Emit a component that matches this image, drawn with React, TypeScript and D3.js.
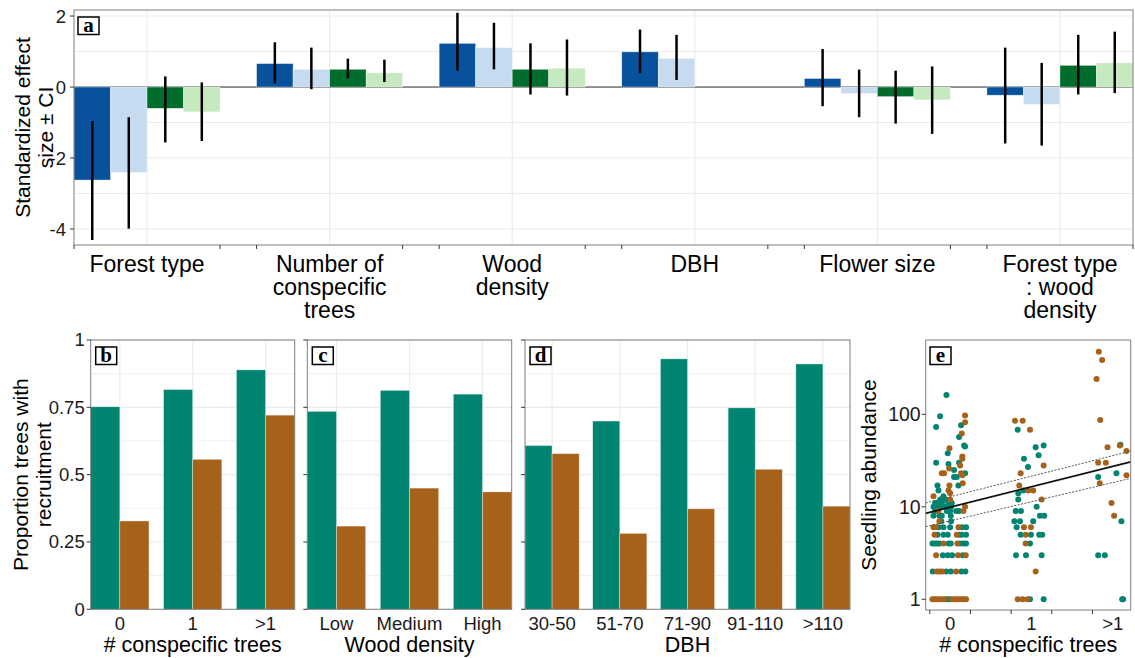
import React, { useEffect, useRef } from "react";
import * as d3 from "d3";

const W = 1135;
const H = 658;
const SANS = "'Liberation Sans', Arial, Helvetica, sans-serif";
const SERIF = "'Liberation Serif', 'Times New Roman', serif";

// ---------- Panel a data ----------
const effectCategories = [
  "Forest type",
  "Number of\nconspecific\ntrees",
  "Wood\ndensity",
  "DBH",
  "Flower size",
  "Forest type\n: wood\ndensity",
];
const effectSeries = ["Model 1", "Model 2", "Model 3", "Model 4"];
const effectColors = ["#08519c", "#c6dbef", "#006d2c", "#c7e9c0"];
const effDarkBlue = [-2.62, 0.66, 1.23, 0.99, 0.24, -0.23];
const effDarkBlueLo = [-4.31, 0.1, 0.46, 0.39, -0.54, -1.59];
const effDarkBlueHi = [-0.96, 1.26, 2.09, 1.62, 1.07, 1.11];
const effLightBlue = [-2.41, 0.5, 1.11, 0.81, -0.18, -0.49];
const effLightBlueLo = [-3.99, -0.06, 0.5, 0.2, -0.85, -1.65];
const effLightBlueHi = [-0.85, 1.11, 1.81, 1.47, 0.49, 0.68];
const effDarkGreen = [-0.6, 0.5, 0.5, null, -0.27, 0.61];
const effDarkGreenLo = [-1.56, 0.25, -0.21, null, -1.03, -0.21];
const effDarkGreenHi = [0.3, 0.8, 1.23, null, 0.46, 1.47];
const effLightGreen = [-0.7, 0.4, 0.53, null, -0.36, 0.68];
const effLightGreenLo = [-1.52, 0.14, -0.24, null, -1.32, -0.17];
const effLightGreenHi = [0.13, 0.77, 1.34, null, 0.58, 1.56];
const effTicks = [2, 0, -2, -4];

// ---------- Panels b-d data ----------
const recruitColors = ["#018571", "#a6611a"];
const propTicks = [0, 0.25, 0.5, 0.75, 1];
const propTickLabels = ["0", "0.25", "0.5", "0.75", "1"];

const conspCategories = ["0", "1", ">1"];
const conspTeal = [0.752, 0.816, 0.889];
const conspBrown = [0.328, 0.557, 0.721];

const woodCategories = ["Low", "Medium", "High"];
const woodTeal = [0.735, 0.813, 0.799];
const woodBrown = [0.309, 0.45, 0.436];

const dbhCategories = ["30-50", "51-70", "71-90", "91-110", ">110"];
const dbhTeal = [0.608, 0.699, 0.93, 0.748, 0.911];
const dbhBrown = [0.578, 0.282, 0.373, 0.52, 0.383];

// ---------- Panel e data ----------
const seedCategories = ["0", "1", ">1"];
const seedTicks = [1, 10, 100];
const tealX = [
  -0.041, -0.012,
  -0.213, -0.049, 0.008, 0.139, 0.188,
  -0.09, -0.029, 0.025, 0.155,
  -0.217, -0.188, -0.16, -0.131, -0.02, 0.008, 0.123, 0.164, 0.196,
  -0.155, -0.082, -0.029, 0.11, 0.143, 0.196,
  -0.143, -0.082, 0, 0.143, 0.196,
  -0.11, 0.012,
  -0.204, -0.131, -0.102, 0.008,
  -0.184, -0.041, -0.02, 0, 0.074, 0.11,
  -0.204, -0.123, -0.057, 0.012, -0.16,
  -0.184, -0.164, -0.02, 0.02, -0.1,
  -0.06, -0.12,
  -0.082, -0.143, -0.155, 0.102, 0.049, 0.082, 0.184, 0.049,
  -0.172, -0.02, 0.11, -0.029, 0.172, 0.184, 0.11, -0.172, 0.135, -0.123, -0.045,
  0.831, 1.052, 1.15, 1.088, 0.908, 0.957, 0.838, 0.838, 0.9, 1.064, 0.806, 0.871,
  1.104, 1.157, 0.79, 0.859, 1.022, 0.818, 0.867, 0.994, 1.096, 1.133, 0.982,
  0.81, 0.933, 1.125, 0.982, 1.15,
  2.094, 1.82, 2.045, 2.106, 1.82, 1.902, 2.115, 2.127,
];
const tealY = [
  1, 1,
  2, 2, 2, 2, 2,
  3, 3, 3, 3,
  4, 4, 4, 4, 4, 4, 4, 4, 4,
  5, 5, 5, 5, 5, 5,
  6, 6, 6, 6, 6,
  7, 7,
  8, 8, 8, 8,
  9, 9, 9, 9, 9, 9,
  10, 10, 10, 10, 10,
  11, 11, 11, 11, 11,
  12, 12,
  13, 15, 17, 17, 21, 21, 23, 25,
  30, 29, 30, 38, 46, 45, 57, 73, 76, 95, 162,
  68, 44, 46, 36, 33, 27, 14, 12, 15, 10, 9, 9,
  8, 8, 7, 7, 7, 6, 5, 5, 5, 5, 4,
  3, 3, 3, 1, 1,
  47, 21, 23, 7, 3, 3, 1, 1,
];
const brownX = [
  -0.217, -0.192, -0.164, -0.131, -0.098, -0.07, 0.02, 0.049, 0.082, 0.11, 0.139, 0.168, 0.196,
  -0.164, -0.131, -0.098, 0.074,
  -0.172, 0.098, 0.192,
  -0.082, 0.09,
  -0.192, 0.082,
  -0.204, -0.176, 0.102,
  -0.131,
  -0.143, 0.164,
  0.184, 0.0, -0.204, -0.02, 0.0, -0.008, 0.155,
  -0.102, -0.074, 0.135, 0.151, -0.012, 0.123, 0.151, 0.151, -0.008, 0.143, 0.184, 0.184,
  0.798, 0.892, 0.982, 1.15, 0.867, 0.85, 0.961, 1.022, 1.125, 0.908, 0.994, 0.929, 0.929,
  1.052, 0.831, 0.892, 0.953,
  1.828, 1.869, 1.8, 1.845, 1.935, 2.086, 2.168, 1.82, 1.914, 1.84, 2.168, 1.984, 2.016,
];
const brownY = [
  1, 1, 1, 1, 1, 1, 1, 1, 1, 1, 1, 1, 1,
  2, 2, 2, 2,
  3, 3, 3,
  4, 4,
  5, 5,
  6, 6, 6,
  7,
  9, 9,
  10, 12, 13, 15, 14, 17, 18,
  23, 23, 23, 22, 26, 28, 35, 33, 43, 62, 82, 97,
  85, 85, 68, 28, 23, 17, 15, 15, 12, 6, 6, 5, 4,
  2, 1, 1, 1,
  475, 386, 241, 87, 44, 46, 40, 30, 30, 18, 22, 11, 8,
];
const fitX = [-0.3, 2.22];
const fitMid = [8.5, 30.6];
const fitUpper = [11.0, 40.0];
const fitLower = [6.1, 20.3];

const BORDER = "#7f7f7f";
const TICK = "#333333";
const GRID = "#ebebeb";
const TICKFONT = 18.5;
const TITLEFONT = 21.5;

function panelLabel(g: any, x: number, y: number, letter: string) {
  g.append("rect")
    .attr("x", x)
    .attr("y", y)
    .attr("width", 21)
    .attr("height", 17.5)
    .attr("fill", "white")
    .attr("stroke", "black")
    .attr("stroke-width", 1.5);
  g.append("text")
    .attr("x", x + 10.5)
    .attr("y", y + 15)
    .attr("text-anchor", "middle")
    .attr("font-family", SERIF)
    .attr("font-weight", "bold")
    .attr("font-size", 21)
    .text(letter);
}

function drawBarPanel(
  svg: any,
  opts: {
    left: number;
    right: number;
    top: number;
    bottom: number;
    cats: string[];
    teal: number[];
    brown: number[];
    letter: string;
    title: string;
    showYLabels: boolean;
  }
) {
  const { left, right, top, bottom, cats, teal, brown, letter, title, showYLabels } = opts;
  const g = svg.append("g");
  const x = d3.scaleBand<string>().domain(cats).range([left, right]).paddingInner(0.2).paddingOuter(0);
  const sub = d3.scaleBand<string>().domain(["t", "b"]).range([0, x.bandwidth()]);
  const y = d3.scaleLinear().domain([0, 1]).range([bottom, top]);

  const minor = [0.125, 0.375, 0.625, 0.875];
  g.selectAll(".gmin")
    .data(minor)
    .join("line")
    .attr("x1", left)
    .attr("x2", right)
    .attr("y1", (d: number) => y(d))
    .attr("y2", (d: number) => y(d))
    .attr("stroke", GRID)
    .attr("stroke-width", 0.8);
  g.selectAll(".gmaj")
    .data(propTicks)
    .join("line")
    .attr("x1", left)
    .attr("x2", right)
    .attr("y1", (d: number) => y(d))
    .attr("y2", (d: number) => y(d))
    .attr("stroke", GRID)
    .attr("stroke-width", 1.1);
  g.selectAll(".gv")
    .data(cats)
    .join("line")
    .attr("x1", (d: string) => (x(d) as number) + x.bandwidth() / 2)
    .attr("x2", (d: string) => (x(d) as number) + x.bandwidth() / 2)
    .attr("y1", top)
    .attr("y2", bottom)
    .attr("stroke", GRID)
    .attr("stroke-width", 1.1);

  const rows = cats.map((c, i) => ({ c, t: teal[i], b: brown[i] }));
  rows.forEach((r) => {
    [
      ["t", r.t, recruitColors[0]],
      ["b", r.b, recruitColors[1]],
    ].forEach(([k, v, col]: any) => {
      g.append("rect")
        .attr("x", (x(r.c) as number) + (sub(k) as number))
        .attr("width", sub.bandwidth())
        .attr("y", y(v))
        .attr("height", y(0) - y(v))
        .attr("fill", col)
        .attr("stroke", "white")
        .attr("stroke-opacity", 0.6)
        .attr("stroke-width", 0.6);
    });
  });

  g.append("rect")
    .attr("x", left)
    .attr("y", top)
    .attr("width", right - left)
    .attr("height", bottom - top)
    .attr("fill", "none")
    .attr("stroke", BORDER)
    .attr("stroke-width", 1);

  propTicks.forEach((t, i) => {
    g.append("line")
      .attr("x1", left - 4)
      .attr("x2", left)
      .attr("y1", y(t))
      .attr("y2", y(t))
      .attr("stroke", TICK)
      .attr("stroke-width", 1);
    if (showYLabels) {
      g.append("text")
        .attr("x", left - 6)
        .attr("y", y(t))
        .attr("dy", "0.35em")
        .attr("text-anchor", "end")
        .attr("font-family", SANS)
        .attr("font-size", TICKFONT)
        .attr("fill", "#1a1a1a")
        .text(propTickLabels[i]);
    }
  });

  cats.forEach((c) => {
    g.append("text")
      .attr("x", (x(c) as number) + x.bandwidth() / 2)
      .attr("y", 630)
      .attr("text-anchor", "middle")
      .attr("font-family", SANS)
      .attr("font-size", TICKFONT)
      .attr("fill", "#1a1a1a")
      .text(c);
  });
  g.append("text")
    .attr("x", (left + right) / 2)
    .attr("y", 652)
    .attr("text-anchor", "middle")
    .attr("font-family", SANS)
    .attr("font-size", TITLEFONT)
    .attr("fill", "#000")
    .text(title);

  panelLabel(g, left + 5, top + 7, letter);
}

export default function App() {
  const ref = useRef<SVGSVGElement>(null);

  useEffect(() => {
    const svg = d3.select(ref.current);
    svg.selectAll("*").remove();

    // ================= Panel a =================
    const aL = 74,
      aR = 1133,
      aT = 10,
      aB = 245;
    const ga = svg.append("g");
    const xa = d3.scaleBand<string>().domain(effectCategories).range([aL, aR]).paddingInner(0.2).paddingOuter(0);
    const xs = d3.scaleBand<string>().domain(effectSeries).range([0, xa.bandwidth()]);
    const ya = d3.scaleLinear().domain([-4.45, 2.17]).range([aB, aT]);

    const gridVals = d3.range(-4, 3, 1);
    ga.selectAll(".gh")
      .data(gridVals)
      .join("line")
      .attr("x1", aL)
      .attr("x2", aR)
      .attr("y1", (d: number) => ya(d))
      .attr("y2", (d: number) => ya(d))
      .attr("stroke", GRID)
      .attr("stroke-width", 1.1);
    ga.selectAll(".gv")
      .data(effectCategories)
      .join("line")
      .attr("x1", (d: string) => (xa(d) as number) + xa.bandwidth() / 2)
      .attr("x2", (d: string) => (xa(d) as number) + xa.bandwidth() / 2)
      .attr("y1", aT)
      .attr("y2", aB)
      .attr("stroke", GRID)
      .attr("stroke-width", 1.1);

    const vals = [effDarkBlue, effLightBlue, effDarkGreen, effLightGreen];
    const los = [effDarkBlueLo, effLightBlueLo, effDarkGreenLo, effLightGreenLo];
    const his = [effDarkBlueHi, effLightBlueHi, effDarkGreenHi, effLightGreenHi];

    ga.append("line")
      .attr("x1", aL)
      .attr("x2", aR)
      .attr("y1", ya(0))
      .attr("y2", ya(0))
      .attr("stroke", "#333")
      .attr("stroke-width", 1);

    effectCategories.forEach((cat, ci) => {
      effectSeries.forEach((s, si) => {
        const v = vals[si][ci];
        if (v === null || v === undefined) return;
        const x0 = (xa(cat) as number) + (xs(s) as number);
        ga.append("rect")
          .attr("x", x0)
          .attr("width", xs.bandwidth())
          .attr("y", ya(Math.max(0, v)))
          .attr("height", Math.abs(ya(v) - ya(0)))
          .attr("fill", effectColors[si])
          .attr("stroke", "white")
          .attr("stroke-opacity", 0.6)
          .attr("stroke-width", 0.6);
      });
    });
    effectCategories.forEach((cat, ci) => {
      effectSeries.forEach((s, si) => {
        const lo = los[si][ci];
        const hi = his[si][ci];
        if (lo === null || hi === null) return;
        const xc = (xa(cat) as number) + (xs(s) as number) + xs.bandwidth() / 2;
        ga.append("line")
          .attr("x1", xc)
          .attr("x2", xc)
          .attr("y1", ya(lo as number))
          .attr("y2", ya(hi as number))
          .attr("stroke", "black")
          .attr("stroke-width", 2.5);
      });
    });

    ga.append("rect")
      .attr("x", aL)
      .attr("y", aT)
      .attr("width", aR - aL)
      .attr("height", aB - aT)
      .attr("fill", "none")
      .attr("stroke", BORDER)
      .attr("stroke-width", 1);

    effTicks.forEach((t) => {
      ga.append("line")
        .attr("x1", aL - 4)
        .attr("x2", aL)
        .attr("y1", ya(t))
        .attr("y2", ya(t))
        .attr("stroke", TICK);
      ga.append("text")
        .attr("x", aL - 8)
        .attr("y", ya(t))
        .attr("dy", "0.35em")
        .attr("text-anchor", "end")
        .attr("font-family", SANS)
        .attr("font-size", TICKFONT)
        .attr("fill", "#1a1a1a")
        .text(String(t));
    });
    effectCategories.forEach((cat) => {
      const x0 = xa(cat) as number;
      [x0, x0 + xa.bandwidth()].forEach((xx) => {
        ga.append("line")
          .attr("x1", xx)
          .attr("x2", xx)
          .attr("y1", aB)
          .attr("y2", aB + 4)
          .attr("stroke", TICK);
      });
      const cx = x0 + xa.bandwidth() / 2;
      const t = ga
        .append("text")
        .attr("x", cx)
        .attr("y", 272)
        .attr("text-anchor", "middle")
        .attr("font-family", SANS)
        .attr("font-size", 23)
        .attr("fill", "#000");
      cat.split("\n").forEach((ln, li) => {
        t.append("tspan")
          .attr("x", cx)
          .attr("dy", li === 0 ? 0 : 23)
          .text(ln);
      });
    });
    const yt = ga
      .append("text")
      .attr("transform", `translate(30,${(aT + aB) / 2}) rotate(-90)`)
      .attr("text-anchor", "middle")
      .attr("font-family", SANS)
      .attr("font-size", 21)
      .attr("fill", "#000");
    ["Standardized effect", "size \u00b1 CI"].forEach((ln, i) => {
      yt.append("tspan").attr("x", 0).attr("dy", i === 0 ? 0 : 23).text(ln);
    });
    panelLabel(ga, aL + 4, aT + 7, "a");

    // ================= Panels b, c, d =================
    const bT = 340,
      bB = 609.3;
    drawBarPanel(svg, {
      left: 90.7,
      right: 294.7,
      top: bT,
      bottom: bB,
      cats: conspCategories,
      teal: conspTeal,
      brown: conspBrown,
      letter: "b",
      title: "# conspecific trees",
      showYLabels: true,
    });
    drawBarPanel(svg, {
      left: 307.3,
      right: 511.7,
      top: bT,
      bottom: bB,
      cats: woodCategories,
      teal: woodTeal,
      brown: woodBrown,
      letter: "c",
      title: "Wood density",
      showYLabels: false,
    });
    drawBarPanel(svg, {
      left: 525,
      right: 850,
      top: bT,
      bottom: bB,
      cats: dbhCategories,
      teal: dbhTeal,
      brown: dbhBrown,
      letter: "d",
      title: "DBH",
      showYLabels: false,
    });
    const pt = svg
      .append("text")
      .attr("transform", `translate(28,${(bT + bB) / 2}) rotate(-90)`)
      .attr("text-anchor", "middle")
      .attr("font-family", SANS)
      .attr("font-size", 21)
      .attr("fill", "#000");
    ["Proportion trees with", "recruitment"].forEach((ln, i) => {
      pt.append("tspan").attr("x", 0).attr("dy", i === 0 ? 0 : 23).text(ln);
    });

    // ================= Panel e =================
    const eL = 925.7,
      eR = 1130.7,
      eT = 340,
      eB = 610;
    const ge = svg.append("g");
    const xe = d3.scaleLinear().domain([-0.3, 2.22]).range([eL, eR]);
    const ye = d3.scaleLog().domain([0.766, 636]).range([eB, eT]);

    ge.append("rect")
      .attr("x", eL)
      .attr("y", eT)
      .attr("width", eR - eL)
      .attr("height", eB - eT)
      .attr("fill", "white");

    const line = d3
      .line<number>()
      .x((_d: number, i: number) => xe(fitX[i]))
      .y((d: number) => ye(d));

    tealX.forEach((xv, i) => {
      ge.append("circle")
        .attr("cx", xe(xv))
        .attr("cy", ye(tealY[i]))
        .attr("r", 3)
        .attr("fill", recruitColors[0]);
    });
    brownX.forEach((xv, i) => {
      ge.append("circle")
        .attr("cx", xe(xv))
        .attr("cy", ye(brownY[i]))
        .attr("r", 3)
        .attr("fill", recruitColors[1]);
    });

    [fitUpper, fitLower].forEach((arr) => {
      ge.append("path")
        .attr("d", line(arr) as string)
        .attr("fill", "none")
        .attr("stroke", "#555")
        .attr("stroke-width", 1)
        .attr("stroke-dasharray", "2,1.5");
    });
    ge.append("path")
      .attr("d", line(fitMid) as string)
      .attr("fill", "none")
      .attr("stroke", "#111")
      .attr("stroke-width", 1.8);

    ge.append("rect")
      .attr("x", eL)
      .attr("y", eT)
      .attr("width", eR - eL)
      .attr("height", eB - eT)
      .attr("fill", "none")
      .attr("stroke", BORDER)
      .attr("stroke-width", 1);

    seedTicks.forEach((t) => {
      ge.append("line")
        .attr("x1", eL - 4)
        .attr("x2", eL)
        .attr("y1", ye(t))
        .attr("y2", ye(t))
        .attr("stroke", TICK);
      ge.append("text")
        .attr("x", eL - 5)
        .attr("y", ye(t))
        .attr("dy", "0.35em")
        .attr("text-anchor", "end")
        .attr("font-family", SANS)
        .attr("font-size", 19.5)
        .attr("fill", "#1a1a1a")
        .text(String(t));
    });
    [-0.25, 0.25, 0.75, 1.25, 1.75].forEach((t) => {
      ge.append("line")
        .attr("x1", xe(t))
        .attr("x2", xe(t))
        .attr("y1", eB)
        .attr("y2", eB + 4)
        .attr("stroke", TICK);
    });
    seedCategories.forEach((c, i) => {
      ge.append("text")
        .attr("x", xe(i))
        .attr("y", 630)
        .attr("text-anchor", "middle")
        .attr("font-family", SANS)
        .attr("font-size", TICKFONT)
        .attr("fill", "#1a1a1a")
        .text(c);
    });
    ge.append("text")
      .attr("x", (eL + eR) / 2)
      .attr("y", 652)
      .attr("text-anchor", "middle")
      .attr("font-family", SANS)
      .attr("font-size", TITLEFONT)
      .attr("fill", "#000")
      .text("# conspecific trees");
    ge.append("text")
      .attr("transform", `translate(876,${(eT + eB) / 2}) rotate(-90)`)
      .attr("text-anchor", "middle")
      .attr("font-family", SANS)
      .attr("font-size", 21)
      .attr("fill", "#000")
      .text("Seedling abundance");
    panelLabel(ge, eL + 4.3, eT + 7, "e");
  }, []);

  return (
    <svg
      ref={ref}
      width={W}
      height={H}
      style={{ position: "absolute", left: 0, top: 0, background: "white" }}
    />
  );
}
